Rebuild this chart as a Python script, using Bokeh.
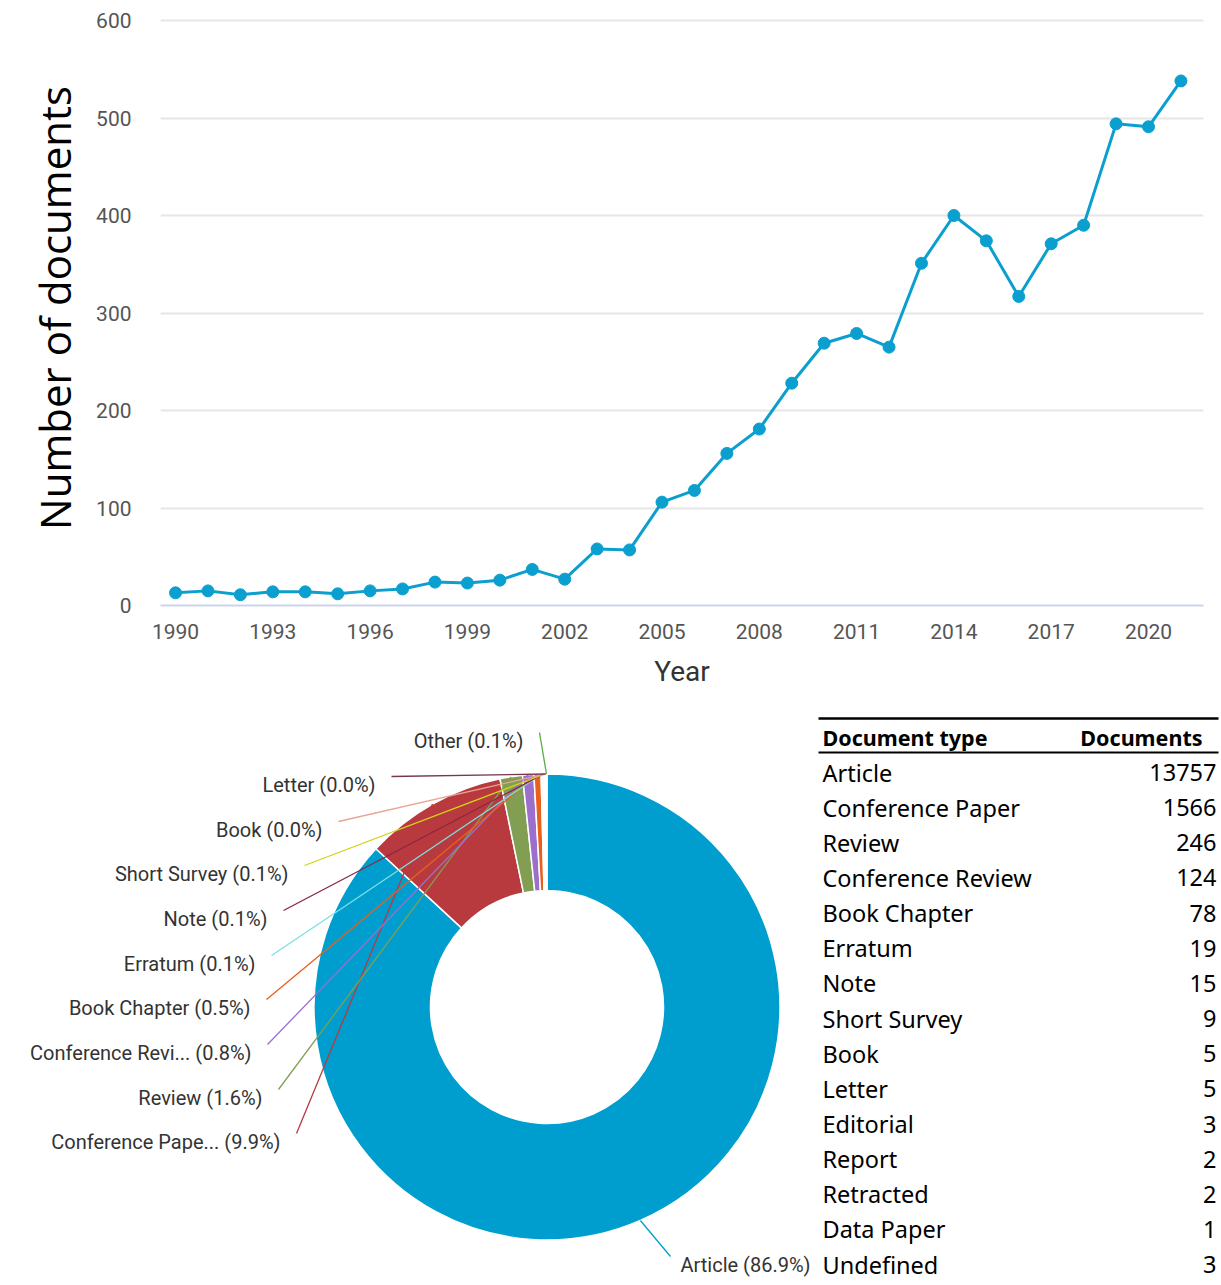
from bokeh.plotting import figure
from bokeh.models import Range1d, FixedTicker, ColumnDataSource
from bokeh.layouts import column, row
from bokeh.core.properties import value
from bokeh.embed import file_html
from bokeh.resources import INLINE
import math

# ---------------- data ----------------
years = list(range(1990, 2022))
docs_per_year = [13, 15, 11, 14, 14, 12, 15, 17, 24, 23,
                 26, 37, 27, 58, 57, 106, 118, 156, 181, 228,
                 269, 279, 265, 351, 400, 374, 317, 371, 390, 494,
                 491, 538]
year_ticks = [1990, 1993, 1996, 1999, 2002, 2005, 2008, 2011, 2014, 2017, 2020]
count_ticks = [0, 100, 200, 300, 400, 500, 600]

doc_types = ["Article", "Conference Paper", "Review", "Conference Review",
             "Book Chapter", "Erratum", "Note", "Short Survey", "Book",
             "Letter", "Editorial", "Report", "Retracted", "Data Paper",
             "Undefined"]
doc_counts = [13757, 1566, 246, 124, 78, 19, 15, 9, 5, 5, 3, 2, 2, 1, 3]

pie_names = ["Article", "Conference Pape...", "Review", "Conference Revi...",
             "Book Chapter", "Erratum", "Note", "Short Survey", "Book",
             "Letter", "Other"]
pie_counts = doc_counts[:10] + [sum(doc_counts[10:])]
pie_colors = ["#009ECE", "#B83A3F", "#819E52", "#9B6FCB", "#E8601C",
              "#7FDFDF", "#8B2445", "#D4D41A", "#E9A58F", "#7A3552", "#5BAA46"]

# ---------------- top: line chart ----------------
BLUE = "#0A9FCF"
p1 = figure(width=1221, height=705, output_backend="svg", toolbar_location=None,
            x_range=Range1d(1989.537, 2021.696), y_range=Range1d(0, 610.26),
            min_border_left=160, min_border_right=18, min_border_top=10,
            min_border_bottom=100)
p1.outline_line_color = None
p1.line(years, docs_per_year, line_color=BLUE, line_width=3)
p1.scatter(years, docs_per_year, size=12, fill_color=BLUE, line_color=BLUE)

p1.xaxis.ticker = FixedTicker(ticks=year_ticks)
p1.yaxis.ticker = FixedTicker(ticks=count_ticks)
p1.xgrid.grid_line_color = None
p1.ygrid.grid_line_color = "#e6e6e6"
p1.ygrid.grid_line_width = 2

for ax in (p1.xaxis[0], p1.yaxis[0]):
    ax.major_tick_line_color = None
    ax.minor_tick_line_color = None
    ax.major_label_text_font = "Roboto"
    ax.major_label_text_font_size = "21px"
    ax.major_label_text_color = "#555555"
    ax.axis_label_text_font_style = "normal"

p1.xaxis.axis_line_color = "#ccd6eb"
p1.xaxis.axis_line_width = 2
p1.xaxis.major_label_standoff = 12
p1.xaxis.axis_label = "Year"
p1.xaxis.axis_label_text_font = "Roboto"
p1.xaxis.axis_label_text_font_size = "28px"
p1.xaxis.axis_label_text_color = "#333333"
p1.xaxis.axis_label_standoff = 13

p1.yaxis.axis_line_color = None
p1.yaxis.major_label_standoff = 23
p1.yaxis.axis_label = "Number of documents"
p1.yaxis.axis_label_text_font = "Open Sans"
p1.yaxis.axis_label_text_font_size = "42px"
p1.yaxis.axis_label_text_color = "#000000"
p1.yaxis.axis_label_standoff = 10

# ---------------- bottom: donut + table ----------------
H2 = 580
TOP2 = 705
p2 = figure(width=1221, height=H2, output_backend="svg", toolbar_location=None,
            x_range=Range1d(0, 1221), y_range=Range1d(0, H2),
            x_axis_type=None, y_axis_type=None, min_border=0)
p2.outline_line_color = None
p2.grid.visible = False

def py(page_y):
    return TOP2 + H2 - page_y

cx, cy = 546.5, py(1006.5)
r_in, r_out = 116.5, 233

total = sum(doc_counts)
starts, ends, mids = [], [], []
acc = 0.0
for c in pie_counts:
    s = acc / total * 2 * math.pi
    acc += c
    e = acc / total * 2 * math.pi
    starts.append(math.pi / 2 - e)
    ends.append(math.pi / 2 - s)
    mids.append(math.pi / 2 - (s + e) / 2)

src = ColumnDataSource(dict(start=starts, end=ends, color=pie_colors))
p2.annular_wedge(x=cx, y=cy, inner_radius=r_in, outer_radius=r_out,
                 start_angle="start", end_angle="end", direction="anticlock",
                 fill_color="color", line_color="white", line_width=1.5,
                 source=src)

# labels (layout positions)
label_x = [680, 280, 262, 251, 250, 255, 267, 288, 322, 375, 523]
label_y = [1264, 1141, 1097, 1052, 1007, 963, 918, 873, 829, 784, 740]
label_align = ["left"] + ["right"] * 10

lab_txt, lx, ly, x0, y0, x1, y1 = [], [], [], [], [], [], []
for i, name in enumerate(pie_names):
    pct = 100.0 * pie_counts[i] / total
    lab_txt.append(f"{name} ({pct:.1f}%)")
    lx.append(label_x[i])
    ly.append(py(label_y[i]))
    if label_align[i] == "right":
        x0.append(label_x[i] + 16)
    else:
        x0.append(label_x[i] - 10)
    y0.append(py(label_y[i] - 8))
    x1.append(cx + r_out * math.cos(mids[i]))
    y1.append(cy + r_out * math.sin(mids[i]))

p2.segment(x0=x0, y0=y0, x1=x1, y1=y1, line_color=pie_colors, line_width=1.3)
p2.text(x=lx, y=ly, text=lab_txt, text_align=label_align, text_baseline="middle",
        text_font=value("Roboto"), text_font_size="20px", text_color="#333333")

# table
tx_left, tx_right = 822, 1216
p2.segment(x0=[818, 818], y0=[py(718), py(752)], x1=[1218, 1218], y1=[py(718), py(752)],
           line_color="black", line_width=[2.5, 2])
p2.text(x=[tx_left], y=[py(737)], text=["Document type"], text_align="left",
        text_baseline="middle", text_font=value("Noto Sans"), text_font_size="21.5px",
        text_font_style="bold", text_color="black")
p2.text(x=[1202], y=[py(737)], text=["Documents"], text_align="right",
        text_baseline="middle", text_font=value("Noto Sans"), text_font_size="21.5px",
        text_font_style="bold", text_color="black")
row_y = [py(772 + 35.15 * i) for i in range(len(doc_types))]
p2.text(x=[tx_left] * len(doc_types), y=row_y, text=doc_types, text_align="left",
        text_baseline="middle", text_font=value("Noto Sans"), text_font_size="23.5px",
        text_color="black")
p2.text(x=[tx_right] * len(doc_types), y=row_y, text=[str(c) for c in doc_counts],
        text_align="right", text_baseline="middle", text_font=value("Noto Sans"),
        text_font_size="23.5px", text_color="black")

layout = column(row(p1), row(p2), spacing=0)
open("out.html", "w").write(file_html(layout, INLINE))
